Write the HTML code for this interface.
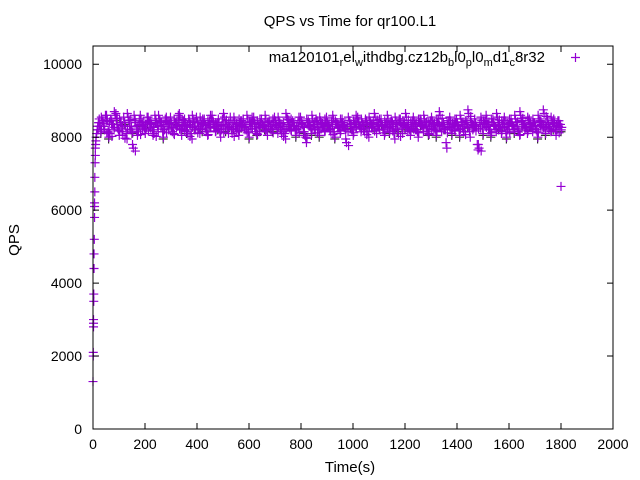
<!DOCTYPE html>
<html><head><meta charset="utf-8"><style>
body{margin:0;background:#fff}
svg{display:block;font-family:"Liberation Sans",sans-serif}
</style></head><body>
<svg id="chart" width="640" height="480">
<rect x="0" y="0" width="640" height="480" fill="#fff"/>
<g id="marks"></g>
<g id="axes"></g>
<rect x="93" y="46" width="520" height="383" fill="none" stroke="#000" stroke-width="1"/>
<text x="350" y="26" font-size="15" text-anchor="middle">QPS vs Time for qr100.L1</text>
<text x="350" y="472" font-size="15" text-anchor="middle">Time(s)</text>
<text x="19" y="240" font-size="15" text-anchor="middle" transform="rotate(-90 19 240)">QPS</text>
<text x="545" y="62" font-size="15" text-anchor="end">ma120101<tspan font-size="11" dy="4">r</tspan><tspan dy="-4">el</tspan><tspan font-size="11" dy="4">w</tspan><tspan dy="-4">ithdbg.cz12b</tspan><tspan font-size="11" dy="4">b</tspan><tspan dy="-4">l0</tspan><tspan font-size="11" dy="4">p</tspan><tspan dy="-4">l0</tspan><tspan font-size="11" dy="4">m</tspan><tspan dy="-4">d1</tspan><tspan font-size="11" dy="4">c</tspan><tspan dy="-4">8r32</tspan></text>
<path d="M571 57.5h9M575.5 53v9" stroke="#9400d3" stroke-width="1.2"/>
</svg>
<script>
const xTicks=[0,200,400,600,800,1000,1200,1400,1600,1800,2000];
const yTicks=[0,2000,4000,6000,8000,10000];
const rampT=[0,1,1,2,2,2,3,3,4,4,5,6,6,6,7,7,8,9,9,10,11,12,14,16,18,20,22,24,1800];
const rampV=[1300,2000,2100,2800,2900,3000,3500,3700,4400,4800,5200,5800,6100,6200,6500,6900,7300,7500,7700,7800,7900,8000,8100,8200,8300,8200,8400,8500,6650];
const valsA=[8300,8450,8200,8500,8100,8350,8600,8250,8400,8050,8300,8550,8200,7700,8400,8150,8500,8300,8250,8450,8350,8100,8400,8500,8300,8200,8450,8350,8150,8400,8300,8550,8250,8400,8100,8350,8500,8200,8300,8450,8400,8150,8350,8500,8250,8300,8400,8200,8550,8350,8300,8100,8450,8250,8400,8350,8200,8500,8300,8450,8150,8350,8400,8250,8500,8300,8200,8400,8350,8450,8100,8300,8550,8250,8400,8300,8200,8450,8350,8050,8400,8300,8500,8200,8350,8450,8250,8400,8300,8150,8500,8350,8250,8400,8300,7850,8450,8200,8350,8500,8300,8400,8150,8350,8450,8250,8550,8300,8400,8200,8350,8500,8250,8300,8450,8100,8400,8350,8550,8250,8300,8450,8200,8400,8350,8500,8150,8300,8450,8250,8400,8600,8300,8200,8350,8450,8250,8400,8300,8500,8150,8350,8650,8400,8250,8300,7700,8450,8350,8500,8200,8400,8300,8550,8250,8350,8450,8200,8400,8300,8500,8150,8600,8350,8250,8450,8300,8400,8200,8500,8350,8650,8300,8250,8450,8400,8200,8350];
const valsB=[8100,8250,8400,7950,8300,8150,8450,8000,8200,8350,7900,8250,8100,8400,8000,8300,8150,8050,8350,8200,8000,8400,8100,8250,7950,8300,8150,8350,8050,8200,8400,8000,8250,8100,8300,7900,8200,8350,8050,8150,8300,8000,8250,8400,8100,8200,7950,8300,8150,8050,8350,8200,8100,8000,8250,8300,8150,7950,8200,8350,8050,8100,8300,8200,8000,8250,8150,8350,8050,8200,8100,7900,8300,8150,8250,8000,8200,8350,8100,7800,8250,8050,8150,8300,8000,8200,8100,8350,8150,8250,7950,8200,8050,8300,8150,8100,8250,8000,8200,8350,8100,8150,8300,7950,8200,8250,8050,8150,8300,8000,8200,8100,8250,7900,8150,8300,8050,8200,8100,8000,8250,8150,7950,8300,8100,8200,8050,8250,8150,8000,8300,8100,8200,7650,8250,8050,8150,8300,8000,8200,8100,8250,7950,8150,8300,7600,8200,8050,8250,8150,8000,8300,8100,8200,8050,8250,7950,8150,8300,8100,8200,8000,8250,8150,8050,8300,8100,8200,7950,8250,8150,8050,8300,8100,8200,8000,8250,8150];
const X0=93,X1=613,Y0=429,Y1=46,XMAX=2000,YMAX=10500;
const xs=v=>X0+(v/XMAX)*(X1-X0);
const ys=v=>Y0-(v/YMAX)*(Y0-Y1);
const NS='http://www.w3.org/2000/svg';
const marks=document.getElementById('marks'),axes=document.getElementById('axes');
function plus(t,v,c,name){
  const p=document.createElementNS(NS,'path');
  const x=xs(t),y=ys(v);
  p.setAttribute('d','M'+(x-4.5)+' '+y+'h9M'+x+' '+(y-4.5)+'v9');
  p.setAttribute('stroke',c);p.setAttribute('stroke-width','1.2');
  
  
  marks.appendChild(p);
}
valsB.forEach((v,i)=>{if(i%3===0)plus(30+i*10,v,'#333','point-dark');});
valsA.forEach((v,i)=>plus(25+i*10,v,'#9400d3','point'));
valsB.forEach((v,i)=>plus(28+i*10,v+200,'#9400d3','point'));
valsA.forEach((v,i)=>plus(33+i*10,v-80,'#9400d3','point'));
valsB.forEach((v,i)=>plus(31+i*10,v+50,'#9400d3','point'));
valsA.forEach((v,i)=>plus(22+i*10,v+100,'#9400d3','point'));
rampT.forEach((t,i)=>plus(t,rampV[i],'#9400d3','point-ramp'));
xTicks.forEach(t=>{
  const x=xs(t);
  const l=document.createElementNS(NS,'path');
  l.setAttribute('d','M'+x+' '+Y0+'v-6M'+x+' '+Y1+'v6');
  l.setAttribute('stroke','#000');
  
  
  axes.appendChild(l);
  const tx=document.createElementNS(NS,'text');
  tx.setAttribute('x',x);tx.setAttribute('y',449);tx.setAttribute('font-size','14');tx.setAttribute('text-anchor','middle');
  tx.textContent=t;
  
  
  axes.appendChild(tx);
});
yTicks.forEach(t=>{
  const y=ys(t);
  const l=document.createElementNS(NS,'path');
  l.setAttribute('d','M'+X0+' '+y+'h6M'+X1+' '+y+'h-6');
  l.setAttribute('stroke','#000');
  
  
  axes.appendChild(l);
  const tx=document.createElementNS(NS,'text');
  tx.setAttribute('x',82);tx.setAttribute('y',y+5);tx.setAttribute('font-size','14');tx.setAttribute('text-anchor','end');
  tx.textContent=t;
  
  
  axes.appendChild(tx);
});
</script>
</body></html>
